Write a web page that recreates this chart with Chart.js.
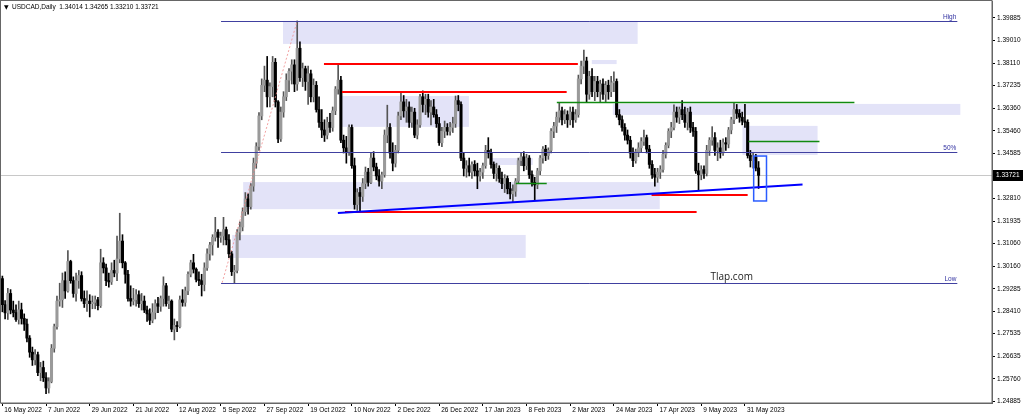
<!DOCTYPE html>
<html>
<head>
<meta charset="utf-8">
<title>USDCAD Daily</title>
<script src="https://cdn.jsdelivr.net/npm/chart.js@4.4.0/dist/chart.umd.min.js"></script>
<style>
html,body{margin:0;padding:0;background:#fff;overflow:hidden}
#wrap{width:1024px;height:418px}
</style>
</head>
<body>
<div id="wrap"><canvas id="c" width="1024" height="418"></canvas></div>
<script>
// daily bars, 16 May 2022 .. 7 Jun 2023 (weekdays)
var opens = [
1.2968,1.2866,1.2834,1.2910,1.2845,1.2835,1.2808,1.2846,1.2812,1.2790,
1.2735,1.2680,1.2650,1.2670,1.2600,1.2620,1.2580,1.2540,1.2565,1.2695,
1.2780,1.2880,1.2885,1.2960,1.2920,1.3035,1.2960,1.2910,1.2960,1.2980,
1.2890,1.2870,1.2880,1.2870,1.2875,1.2885,1.2862,1.3030,1.3010,1.2960,
1.2955,1.3000,1.2990,1.3045,1.3115,1.3030,1.2985,1.2890,1.2880,1.2885,
1.2905,1.2870,1.2880,1.2845,1.2830,1.2805,1.2835,1.2870,1.2860,1.2890,
1.2940,1.2870,1.2880,1.2770,1.2785,1.2780,1.2885,1.2875,1.2920,1.2985,
1.3030,1.3005,1.2965,1.2960,1.2945,1.3010,1.3065,1.3100,1.3130,1.3150,
1.3130,1.3135,1.3160,1.3120,1.3065,1.2995,1.3000,1.3150,1.3170,1.3230,
1.3280,1.3250,1.3330,1.3420,1.3485,1.3605,1.3725,1.3745,1.3680,1.3720,
1.3815,1.3660,1.3515,1.3620,1.3680,1.3745,1.3780,1.3805,1.3730,1.3870,
1.3755,1.3790,1.3740,1.3770,1.3680,1.3725,1.3630,1.3580,1.3550,1.3530,
1.3580,1.3560,1.3625,1.3710,1.3745,1.3510,1.3480,1.3462,1.3560,1.3410,
1.3258,1.3305,1.3290,1.3340,1.3385,1.3345,1.3440,1.3405,1.3370,1.3350,
1.3375,1.3530,1.3560,1.3460,1.3420,1.3470,1.3605,1.3660,1.3625,1.3640,
1.3580,1.3620,1.3530,1.3570,1.3680,1.3650,1.3670,1.3620,1.3640,1.3610,
1.3575,1.3500,1.3545,1.3560,1.3545,1.3560,1.3575,1.3665,1.3650,1.3440,
1.3400,1.3410,1.3385,1.3415,1.3390,1.3370,1.3385,1.3410,1.3470,1.3460,
1.3415,1.3380,1.3400,1.3360,1.3340,1.3360,1.3320,1.3300,1.3310,1.3350,
1.3430,1.3445,1.3410,1.3440,1.3375,1.3345,1.3335,1.3390,1.3440,1.3475,
1.3450,1.3470,1.3545,1.3565,1.3600,1.3625,1.3590,1.3610,1.3590,1.3620,
1.3590,1.3610,1.3750,1.3800,1.3820,1.3690,1.3760,1.3700,1.3740,1.3700,
1.3730,1.3690,1.3725,1.3700,1.3735,1.3740,1.3610,1.3590,1.3560,1.3530,
1.3510,1.3460,1.3430,1.3465,1.3480,1.3505,1.3520,1.3475,1.3415,1.3375,
1.3365,1.3385,1.3395,1.3455,1.3490,1.3545,1.3560,1.3620,1.3600,1.3630,
1.3610,1.3580,1.3620,1.3560,1.3545,1.3390,1.3375,1.3395,1.3380,1.3470,
1.3510,1.3520,1.3470,1.3480,1.3460,1.3500,1.3495,1.3550,1.3590,1.3630,
1.3615,1.3600,1.3585,1.3580,1.3450,1.3430,1.3445,1.34014
];
var highs = [
1.2978,1.2882,1.2930,1.2925,1.2880,1.2865,1.2880,1.2872,1.2830,1.2810,
1.2745,1.2700,1.2690,1.2680,1.2640,1.2645,1.2600,1.2580,1.2710,1.2790,
1.2900,1.2950,1.2990,1.2995,1.3078,1.3040,1.2975,1.2990,1.3000,1.2995,
1.2920,1.2920,1.2905,1.2900,1.2900,1.2895,1.3083,1.3050,1.3025,1.2990,
1.3030,1.3040,1.3135,1.3224,1.3140,1.3035,1.3000,1.2940,1.2930,1.2925,
1.2920,1.2910,1.2900,1.2860,1.2850,1.2870,1.2885,1.2895,1.2900,1.2975,
1.2950,1.2900,1.2885,1.2810,1.2800,1.2900,1.2925,1.2935,1.2995,1.3040,
1.3063,1.3010,1.2995,1.2985,1.3030,1.3085,1.3110,1.3140,1.3208,1.3160,
1.3150,1.3208,1.3170,1.3140,1.3075,1.3020,1.3160,1.3190,1.3245,1.3305,
1.3300,1.3340,1.3440,1.3500,1.3618,1.3750,1.3800,1.3838,1.3735,1.3838,
1.3830,1.3665,1.3640,1.3700,1.3770,1.3790,1.3825,1.3825,1.3977,1.3895,
1.3812,1.3800,1.3800,1.3785,1.3750,1.3740,1.3680,1.3630,1.3590,1.3600,
1.3615,1.3640,1.3720,1.3808,1.3760,1.3530,1.3525,1.3570,1.3570,1.3440,
1.3320,1.3325,1.3360,1.3405,1.3400,1.3460,1.3465,1.3420,1.3395,1.3385,
1.3550,1.3647,1.3575,1.3500,1.3490,1.3620,1.3693,1.3685,1.3670,1.3660,
1.3640,1.3635,1.3590,1.3690,1.3703,1.3690,1.3690,1.3665,1.3670,1.3630,
1.3600,1.3560,1.3585,1.3575,1.3580,1.3600,1.3683,1.3685,1.3660,1.3460,
1.3430,1.3440,1.3425,1.3430,1.3420,1.3400,1.3420,1.3490,1.3520,1.3475,
1.3425,1.3420,1.3410,1.3385,1.3375,1.3370,1.3345,1.3335,1.3360,1.3440,
1.3460,1.3465,1.3455,1.3450,1.3390,1.3365,1.3400,1.3450,1.3485,1.3490,
1.3480,1.3555,1.3580,1.3620,1.3655,1.3640,1.3630,1.3625,1.3640,1.3640,
1.3630,1.3765,1.3820,1.3863,1.3835,1.3780,1.3790,1.3760,1.3760,1.3745,
1.3750,1.3740,1.3745,1.3760,1.3778,1.3750,1.3630,1.3605,1.3575,1.3550,
1.3525,1.3480,1.3475,1.3500,1.3520,1.3550,1.3530,1.3490,1.3430,1.3400,
1.3400,1.3410,1.3470,1.3500,1.3555,1.3580,1.3648,1.3640,1.3640,1.3665,
1.3640,1.3635,1.3640,1.3580,1.3560,1.3420,1.3410,1.3410,1.3490,1.3520,
1.3563,1.3540,1.3500,1.3510,1.3515,1.3520,1.3560,1.3600,1.3655,1.3650,
1.3630,1.3620,1.3650,1.3590,1.3470,1.3460,1.3455,1.34265
];
var lows = [
1.2838,1.2810,1.2808,1.2830,1.2818,1.2800,1.2790,1.2790,1.2765,1.2720,
1.2660,1.2628,1.2630,1.2588,1.2568,1.2565,1.2518,1.2520,1.2560,1.2680,
1.2770,1.2860,1.2855,1.2890,1.2915,1.2950,1.2895,1.2880,1.2930,1.2880,
1.2855,1.2840,1.2818,1.2850,1.2850,1.2845,1.2855,1.2990,1.2940,1.2935,
1.2945,1.2975,1.2960,1.3030,1.3010,1.2950,1.2880,1.2860,1.2865,1.2860,
1.2855,1.2845,1.2835,1.2800,1.2788,1.2795,1.2810,1.2835,1.2840,1.2860,
1.2860,1.2850,1.2760,1.2728,1.2760,1.2775,1.2860,1.2860,1.2905,1.2975,
1.2990,1.2955,1.2940,1.2900,1.2920,1.3000,1.3040,1.3060,1.3115,1.3090,
1.3110,1.3100,1.3100,1.3050,1.2980,1.2952,1.2990,1.3120,1.3155,1.3215,
1.3220,1.3240,1.3310,1.3400,1.3470,1.3590,1.3700,1.3640,1.3640,1.3680,
1.3640,1.3500,1.3505,1.3600,1.3665,1.3700,1.3730,1.3700,1.3705,1.3740,
1.3720,1.3705,1.3650,1.3660,1.3660,1.3620,1.3560,1.3520,1.3505,1.3515,
1.3540,1.3545,1.3610,1.3690,1.3500,1.3460,1.3420,1.3450,1.3400,1.3240,
1.3235,1.3226,1.3270,1.3320,1.3330,1.3340,1.3390,1.3355,1.3330,1.3320,
1.3365,1.3500,1.3440,1.3390,1.3405,1.3460,1.3590,1.3600,1.3580,1.3560,
1.3560,1.3520,1.3515,1.3560,1.3620,1.3610,1.3600,1.3570,1.3600,1.3560,
1.3490,1.3485,1.3520,1.3530,1.3530,1.3540,1.3560,1.3625,1.3430,1.3370,
1.3365,1.3370,1.3360,1.3370,1.3320,1.3350,1.3360,1.3400,1.3440,1.3400,
1.3360,1.3350,1.3345,1.3320,1.3305,1.3300,1.3280,1.3268,1.3290,1.3340,
1.3410,1.3390,1.3395,1.3360,1.3330,1.3275,1.3320,1.3375,1.3420,1.3430,
1.3435,1.3460,1.3520,1.3540,1.3580,1.3570,1.3575,1.3560,1.3570,1.3560,
1.3580,1.3600,1.3730,1.3770,1.3660,1.3670,1.3680,1.3665,1.3680,1.3660,
1.3670,1.3660,1.3670,1.3680,1.3700,1.3600,1.3570,1.3545,1.3510,1.3495,
1.3440,1.3406,1.3420,1.3445,1.3465,1.3490,1.3460,1.3400,1.3360,1.3330,
1.3345,1.3360,1.3385,1.3440,1.3480,1.3520,1.3550,1.3580,1.3575,1.3590,
1.3560,1.3550,1.3540,1.3525,1.3380,1.3315,1.3355,1.3360,1.3370,1.3450,
1.3490,1.3450,1.3430,1.3440,1.3450,1.3470,1.3480,1.3535,1.3575,1.3595,
1.3580,1.3570,1.3560,1.3440,1.3405,1.3400,1.3390,1.33210
];
var closes = [
1.2866,1.2834,1.2910,1.2845,1.2835,1.2808,1.2846,1.2812,1.2790,1.2735,
1.2680,1.2650,1.2670,1.2600,1.2620,1.2580,1.2540,1.2565,1.2695,1.2780,
1.2880,1.2885,1.2960,1.2920,1.3035,1.2960,1.2910,1.2960,1.2980,1.2890,
1.2870,1.2880,1.2870,1.2875,1.2885,1.2862,1.3030,1.3010,1.2960,1.2955,
1.3000,1.2990,1.3045,1.3115,1.3030,1.2985,1.2890,1.2880,1.2885,1.2905,
1.2870,1.2880,1.2845,1.2830,1.2805,1.2835,1.2870,1.2860,1.2890,1.2940,
1.2870,1.2880,1.2770,1.2785,1.2780,1.2885,1.2875,1.2920,1.2985,1.3030,
1.3005,1.2965,1.2960,1.2945,1.3010,1.3065,1.3100,1.3130,1.3150,1.3130,
1.3135,1.3160,1.3120,1.3065,1.2995,1.3000,1.3150,1.3170,1.3230,1.3280,
1.3250,1.3330,1.3420,1.3485,1.3605,1.3725,1.3745,1.3680,1.3720,1.3815,
1.3660,1.3515,1.3620,1.3680,1.3745,1.3780,1.3805,1.3730,1.3870,1.3755,
1.3790,1.3740,1.3770,1.3680,1.3725,1.3630,1.3580,1.3550,1.3530,1.3580,
1.3560,1.3625,1.3710,1.3745,1.3510,1.3480,1.3462,1.3560,1.3410,1.3258,
1.3305,1.3290,1.3340,1.3385,1.3345,1.3440,1.3405,1.3370,1.3350,1.3375,
1.3530,1.3560,1.3460,1.3420,1.3470,1.3605,1.3660,1.3625,1.3640,1.3580,
1.3620,1.3530,1.3570,1.3680,1.3650,1.3670,1.3620,1.3640,1.3610,1.3575,
1.3500,1.3545,1.3560,1.3545,1.3560,1.3575,1.3665,1.3650,1.3440,1.3400,
1.3410,1.3385,1.3415,1.3390,1.3370,1.3385,1.3410,1.3470,1.3460,1.3415,
1.3380,1.3400,1.3360,1.3340,1.3360,1.3320,1.3300,1.3310,1.3350,1.3430,
1.3445,1.3410,1.3440,1.3375,1.3345,1.3335,1.3390,1.3440,1.3475,1.3450,
1.3470,1.3545,1.3565,1.3600,1.3625,1.3590,1.3610,1.3590,1.3620,1.3590,
1.3610,1.3750,1.3800,1.3820,1.3690,1.3760,1.3700,1.3740,1.3700,1.3730,
1.3690,1.3725,1.3700,1.3735,1.3740,1.3610,1.3590,1.3560,1.3530,1.3510,
1.3460,1.3430,1.3465,1.3480,1.3505,1.3520,1.3475,1.3415,1.3375,1.3365,
1.3385,1.3395,1.3455,1.3490,1.3545,1.3560,1.3620,1.3600,1.3630,1.3610,
1.3580,1.3620,1.3560,1.3545,1.3390,1.3375,1.3395,1.3380,1.3470,1.3510,
1.3520,1.3470,1.3480,1.3460,1.3500,1.3495,1.3550,1.3590,1.3630,1.3615,
1.3600,1.3585,1.3580,1.3450,1.3430,1.3445,1.3401,1.33721
];

// date labels every 16 bars, price scale ticks
var dateTicks = ['16 May 2022','7 Jun 2022','29 Jun 2022','21 Jul 2022','12 Aug 2022','5 Sep 2022',
  '27 Sep 2022','19 Oct 2022','10 Nov 2022','2 Dec 2022','26 Dec 2022','17 Jan 2023','8 Feb 2023',
  '2 Mar 2023','24 Mar 2023','17 Apr 2023','9 May 2023','31 May 2023'];
var priceTicks = [1.39885,1.39010,1.38110,1.37235,1.36360,1.35460,1.34585,1.32810,1.31935,
  1.31060,1.30160,1.29285,1.28410,1.27535,1.26635,1.25760,1.24885];
var bid = 1.33721;
var slots = 363; // bars + empty shift area on the right

// drawn objects, in bar index / price units
var fibLevels = [['High', 1.3977], ['50%', 1.34645], ['Low', 1.2952]];
var fibSpan = [80.1, 349.8];
var fibAnchor = [80.5, 1.2952, 108, 1.3977];
var zones = [
  [102.8, 232.7, 1.3977, 1.3887],
  [124.4, 170.9, 1.3683, 1.3562],
  [88.2, 240.8, 1.3346, 1.3240],
  [84.2, 191.7, 1.3139, 1.3049],
  [223.6, 350.9, 1.3652, 1.3609],
  [215.9, 225.0, 1.3824, 1.3808],
  [271.1, 298.6, 1.3566, 1.3452],
  [179.3, 194.3, 1.3440, 1.3413]
];
var redLevels = [[117.8, 210.8, 1.3808], [124.4, 206.7, 1.3699], [125.5, 254.3, 1.3229], [237.8, 273.0, 1.3295]];
var greenLevels = [[203.1, 312.1, 1.3658], [273.3, 299.3, 1.3507], [188.1, 199.4, 1.3342]];
var trend = [122.9, 1.3225, 293.1, 1.3337];
var markBox = [275.2, 279.9, 1.3448, 1.3272];
var watermark = [259.4, 1.29642, 'Tlap.com'];

var labels = [];
for (var i = 0; i < slots; i++) {
  labels.push(i % 16 === 0 && i / 16 < dateTicks.length ? dateTicks[i / 16] : '');
}
var tickIdx = dateTicks.map(function (d, k) { return k * 16; });

function isUp(i) { return closes[i] >= opens[i]; }

var bodies = opens.map(function (o, i) { return [o, closes[i]]; });
var wicks = lows.map(function (l, i) { return [l, highs[i]]; });

var smallFont = '6.5px "Liberation Sans", Arial, sans-serif';

var overlay = {
  id: 'overlay',
  beforeDraw: function (chart) {
    var c = chart.ctx;
    c.save();
    c.fillStyle = '#fff';
    c.fillRect(0, 0, chart.width, chart.height);
    c.restore();
  },
  beforeDatasetsDraw: function (chart) {
    var c = chart.ctx, a = chart.chartArea, xs = chart.scales.x, ys = chart.scales.y;
    c.save();
    c.beginPath(); c.rect(a.left, a.top, a.right - a.left, a.bottom - a.top); c.clip();
    // zones
    c.fillStyle = '#e3e3f8';
    zones.forEach(function (z) {
      var x0 = xs.getPixelForValue(z[0]), x1 = xs.getPixelForValue(z[1]);
      var y0 = ys.getPixelForValue(z[2]), y1 = ys.getPixelForValue(z[3]);
      c.fillRect(x0, y0, x1 - x0, y1 - y0);
    });
    // bid line
    var yb = Math.round(ys.getPixelForValue(bid)) + 0.5;
    c.strokeStyle = '#c8c8c8'; c.lineWidth = 1;
    c.beginPath(); c.moveTo(a.left, yb); c.lineTo(a.right, yb); c.stroke();
    c.restore();
  },
  afterDatasetsDraw: function (chart) {
    var c = chart.ctx, a = chart.chartArea, xs = chart.scales.x, ys = chart.scales.y;
    function X(v) { return xs.getPixelForValue(v); }
    function Y(v) { return ys.getPixelForValue(v); }
    function hline(i0, i1, p, col, w) {
      var y = w % 2 ? Math.round(Y(p)) + 0.5 : Math.round(Y(p));
      c.strokeStyle = col; c.lineWidth = w;
      c.beginPath(); c.moveTo(X(i0), y); c.lineTo(X(i1), y); c.stroke();
    }
    c.save();
    c.beginPath(); c.rect(a.left, a.top, a.right - a.left, a.bottom - a.top); c.clip();

    // fibo
    c.setLineDash([2, 2]);
    c.strokeStyle = 'rgba(240,140,140,0.8)'; c.lineWidth = 1;
    c.beginPath(); c.moveTo(X(fibAnchor[0]), Y(fibAnchor[1])); c.lineTo(X(fibAnchor[2]), Y(fibAnchor[3])); c.stroke();
    c.setLineDash([]);
    c.font = smallFont;
    c.textAlign = 'right'; c.textBaseline = 'alphabetic';
    fibLevels.forEach(function (f) {
      hline(fibSpan[0], fibSpan[1], f[1], '#4040a0', 1);
      c.fillStyle = '#3030a0';
      c.fillText(f[0], X(fibSpan[1]) - 1, Math.round(Y(f[1])) - 2);
    });

    redLevels.forEach(function (r) { hline(r[0], r[1], r[2], '#ff0000', 2); });
    greenLevels.forEach(function (g) { hline(g[0], g[1], g[2], '#108a10', 1.5); });

    c.strokeStyle = '#0000ff'; c.lineWidth = 2;
    c.beginPath(); c.moveTo(X(trend[0]), Y(trend[1])); c.lineTo(X(trend[2]), Y(trend[3])); c.stroke();

    c.strokeStyle = '#2a5cff'; c.lineWidth = 1.5;
    c.strokeRect(X(markBox[0]), Y(markBox[2]), X(markBox[1]) - X(markBox[0]), Y(markBox[3]) - Y(markBox[2]));

    c.fillStyle = '#222';
    c.font = '10px "Open Sans", "Liberation Sans", sans-serif';
    c.textAlign = 'left';
    c.fillText(watermark[2], X(watermark[0]), Y(watermark[1]));
    c.restore();
  },
  afterDraw: function (chart) {
    var c = chart.ctx, a = chart.chartArea, ys = chart.scales.y;
    c.save();
    // frame
    c.strokeStyle = '#666'; c.lineWidth = 1;
    c.strokeRect(a.left - 0.5, a.top - 0.5, a.right - a.left + 0.5, a.bottom - a.top + 0.5);
    // bid label
    var yb = Math.round(ys.getPixelForValue(bid));
    c.fillStyle = '#000';
    c.fillRect(a.right + 1, yb - 5, 30, 11);
    c.fillStyle = '#fff';
    c.font = smallFont;
    c.textAlign = 'left'; c.textBaseline = 'middle';
    c.fillText(bid.toFixed(5), a.right + 4, yb + 0.5);
    // title
    c.fillStyle = '#000';
    c.font = '6px "DejaVu Sans", sans-serif';
    c.fillText('\u25BC', 4, 7);
    c.font = smallFont;
    c.fillText('USDCAD,Daily  ' + opens[opens.length - 1].toFixed(5) + ' ' + highs[highs.length - 1].toFixed(5) + ' ' +
      lows[lows.length - 1].toFixed(5) + ' ' + closes[closes.length - 1].toFixed(5), 12, 7);
    c.restore();
  }
};

function noPad(s) { s.paddingTop = 0; s.paddingBottom = 0; s.paddingLeft = 0; s.paddingRight = 0; }

new Chart(document.getElementById('c'), {
  type: 'bar',
  data: {
    labels: labels,
    datasets: [
      {
        label: 'body',
        data: bodies,
        grouped: false,
        barThickness: 2.4,
        minBarLength: 1,
        backgroundColor: function (ctx) { return isUp(ctx.dataIndex) ? '#9a9a9a' : '#000'; },
        borderWidth: 0
      },
      {
        label: 'wick',
        data: wicks,
        grouped: false,
        barThickness: 1,
        backgroundColor: function (ctx) { return isUp(ctx.dataIndex) ? '#555' : '#000'; },
        borderWidth: 0
      }
    ]
  },
  options: {
    responsive: false,
    animation: false,
    layout: { padding: { left: 1, top: 1, right: 0, bottom: 0 } },
    plugins: { legend: { display: false }, tooltip: { enabled: false } },
    scales: {
      x: {
        type: 'category',
        offset: true,
        grid: { display: true, drawOnChartArea: false, drawTicks: true, tickLength: 3, color: '#000', offset: false },
        border: { display: true, color: '#666' },
        ticks: {
          autoSkip: false, maxRotation: 0, minRotation: 0, align: 'start', labelOffset: 2, padding: 0,
          color: '#000', font: { family: '"Liberation Sans", Arial, sans-serif', size: 6.5 }
        },
        afterBuildTicks: function (s) { s.ticks = tickIdx.map(function (v) { return { value: v }; }); },
        afterFit: function (s) { s.height = 15; noPad(s); }
      },
      y: {
        position: 'right',
        min: 1.2481,
        max: 1.4055,
        grid: { drawOnChartArea: false, drawTicks: true, tickLength: 3, color: '#000' },
        border: { display: true, color: '#666' },
        ticks: {
          padding: 2, color: '#000', font: { family: '"Liberation Sans", Arial, sans-serif', size: 6.5 },
          callback: function (v) { return Number(v).toFixed(5); }
        },
        afterBuildTicks: function (s) { s.ticks = priceTicks.map(function (v) { return { value: v }; }); },
        afterFit: function (s) { s.width = 32; noPad(s); }
      }
    }
  },
  plugins: [overlay]
});
</script>
</body>
</html>
